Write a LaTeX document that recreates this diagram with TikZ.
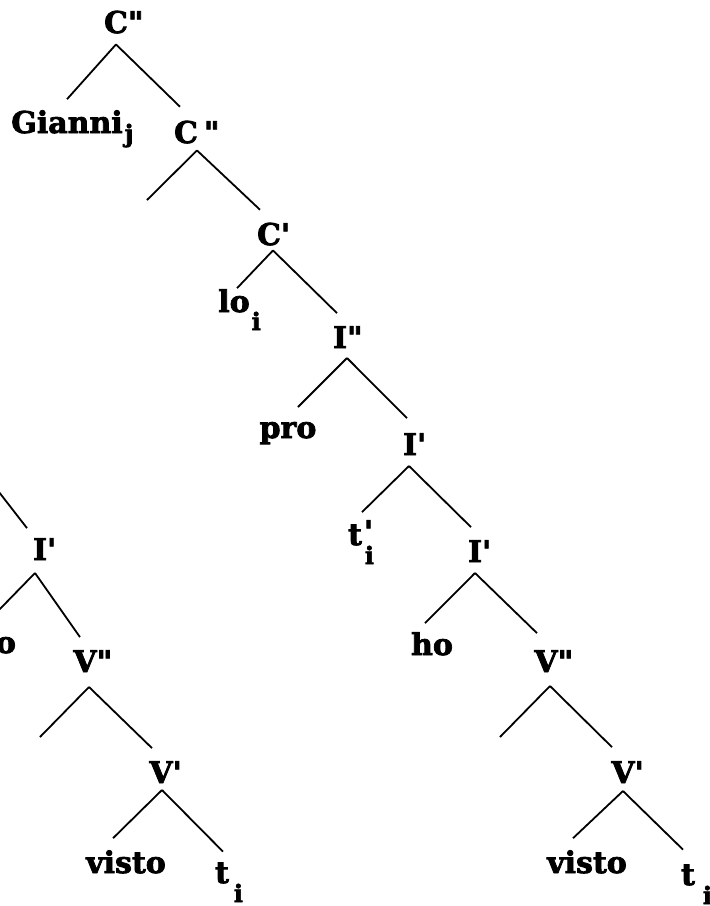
\documentclass[tikz,border=0pt]{standalone}
\usepackage{fontspec}
\setmainfont{DejaVu Serif}[BoldFeatures={FakeBold=2.5}]
\usepackage{tikz}
\newcommand{\lblfont}{\fontsize{30}{36}\selectfont\bfseries}
\newcommand{\pr}{\textquotesingle}
\newcommand{\dpr}{\textquotedbl}
\newcommand{\lsub}[2]{\raisebox{-#1}{\fontsize{24}{24}\selectfont\bfseries #2}}
\tikzset{
  lbl/.style={inner sep=0pt,outer xsep=0pt,outer ysep=11pt,anchor=base,font=\lblfont},
  branch/.style={line width=1.8pt},
}

\begin{document}
\begin{tikzpicture}[x=1pt,y=-1pt]
  \path[use as bounding box,clip] (0,0) rectangle (710,906);
  % right tree: C'' down to the lower V'
  \node[lbl] (cpp) at (116,33) {C\rlap{\dpr}};
  \node[lbl] (gianni) at (67,133) {Gianni\rlap{\kern2pt\lsub{9pt}{j}}};
  \node[lbl] (cbar) at (186,143) {C\rlap{\kern6pt\dpr}};
  \coordinate (cspec) at (147,200);
  \node[lbl] (cp) at (269,245) {C\rlap{\pr}};
  \node[lbl] (lo) at (234,312) {lo\rlap{\kern2pt\lsub{18pt}{i}}};
  \node[lbl] (ipp) at (340,348) {I\rlap{\dpr}};
  \node[lbl] (pro) at (288,438) {pro};
  \node[lbl] (ip) at (410,455) {I\rlap{\pr}};
  \node[lbl] (tr) at (355,545)
    {t\rlap{\kern2pt\raisebox{3pt}{\pr}}\rlap{\kern3pt\lsub{19pt}{i}}};
  \node[lbl] (ipb) at (475,562) {I\rlap{\pr}};
  \node[lbl] (ho) at (432,655) {ho};
  \node[lbl] (vpp) at (546,672) {V\rlap{\dpr}};
  \coordinate (vspec) at (500,737);
  \node[lbl] (vp) at (623,783) {V\rlap{\pr}};
  \node[lbl] (visto) at (587,873) {visto};
  \node[lbl] (tt) at (688,885) {t\rlap{\kern8pt\lsub{19pt}{i}}};
  \draw[branch] (cpp.south) -- (gianni.north);
  \draw[branch] (cpp.south) -- ([xshift=-6pt,yshift=3pt]cbar.north);
  \draw[branch] ([xshift=11pt,yshift=4pt]cbar.south) -- (cspec);
  \draw[branch] ([xshift=11pt,yshift=4pt]cbar.south) -- ([xshift=-9pt,yshift=2pt]cp.north);
  \draw[branch] ([xshift=4pt,yshift=6pt]cp.south) -- ([xshift=3pt,yshift=-10pt]lo.north);
  \draw[branch] ([xshift=4pt,yshift=6pt]cp.south) -- ([xshift=-3pt,yshift=2pt]ipp.north);
  \draw[branch] ([xshift=7pt,yshift=1pt]ipp.south) -- ([xshift=10pt,yshift=4pt]pro.north);
  \draw[branch] ([xshift=7pt,yshift=1pt]ipp.south) -- ([xshift=-3pt,yshift=4pt]ip.north);
  \draw[branch] ([xshift=-1pt]ip.south) -- ([xshift=7pt,yshift=-3pt]tr.north);
  \draw[branch] ([xshift=-1pt]ip.south) -- ([xshift=-4pt,yshift=2pt]ipb.north);
  \draw[branch] (ipb.south) -- ([xshift=-7pt,yshift=-2pt]ho.north);
  \draw[branch] (ipb.south) -- ([xshift=-9pt,yshift=6pt]vpp.north);
  \draw[branch] ([xshift=4pt,yshift=-3pt]vpp.south) -- (vspec);
  \draw[branch] ([xshift=4pt,yshift=-3pt]vpp.south) -- ([xshift=-11pt,yshift=3pt]vp.north);
  \draw[branch] ([yshift=3pt]vp.south) -- ([xshift=-14pt,yshift=1pt]visto.north);
  \draw[branch] ([yshift=3pt]vp.south) -- ([xshift=-5pt,yshift=4pt]tt.north);
  % left tree, cut by the edge
  \coordinate (lup) at (-22,465);
  \node[lbl] (lip) at (40,560) {I\rlap{\pr}};
  \node[lbl] (lho) at (-5,653) {ho};
  \node[lbl] (lvpp) at (85,672) {V\rlap{\dpr}};
  \coordinate (lvspec) at (40,737);
  \node[lbl] (lvp) at (161,783) {V\rlap{\pr}};
  \node[lbl] (lvisto) at (126,873) {visto};
  \node[lbl] (lt) at (222,883) {t\rlap{\kern5pt\lsub{19pt}{i}}};
  \draw[branch] (lup) -- ([xshift=-13pt,yshift=-1pt]lip.north);
  \draw[branch] ([xshift=-5pt,yshift=-2pt]lip.south) -- ([xshift=-5pt]lho.north);
  \draw[branch] ([xshift=-5pt,yshift=-2pt]lip.south) -- ([xshift=-5pt,yshift=2pt]lvpp.north);
  \draw[branch] ([xshift=4pt,yshift=-4pt]lvpp.south) -- (lvspec);
  \draw[branch] ([xshift=4pt,yshift=-4pt]lvpp.south) -- ([xshift=-9pt,yshift=2pt]lvp.north);
  \draw[branch] ([xshift=1pt,yshift=4pt]lvp.south) -- ([xshift=-13pt,yshift=1pt]lvisto.north);
  \draw[branch] ([xshift=1pt,yshift=4pt]lvp.south) -- ([xshift=1pt]lt.north);
\end{tikzpicture}
\end{document}
